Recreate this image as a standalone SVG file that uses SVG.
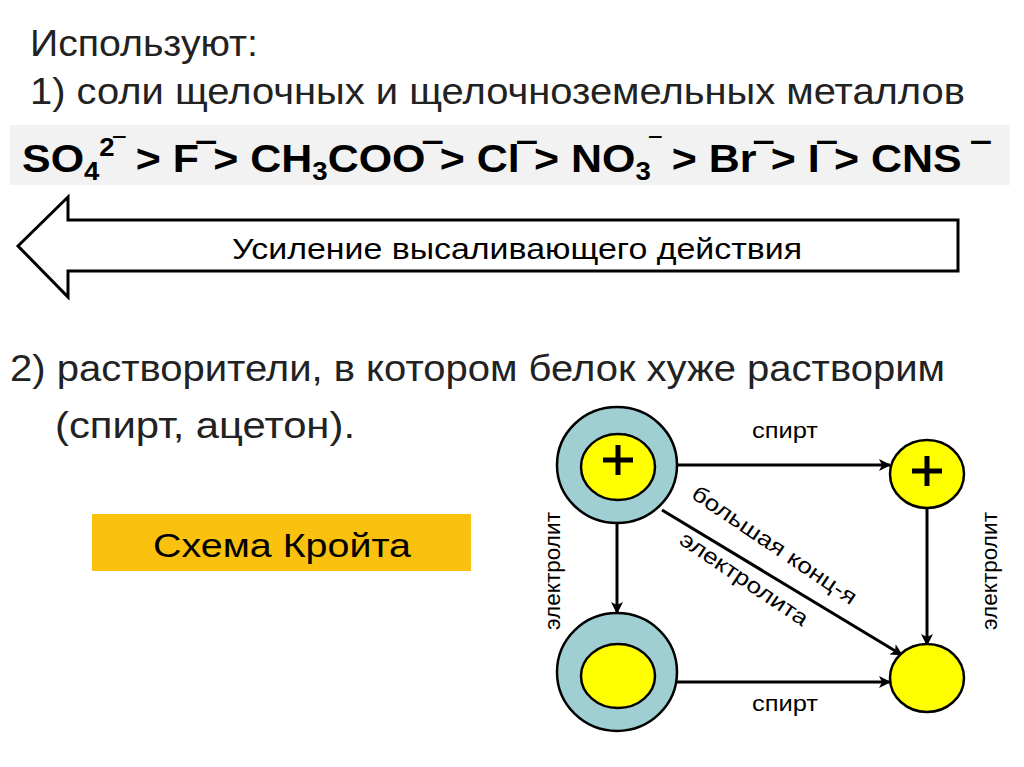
<svg xmlns="http://www.w3.org/2000/svg" width="1024" height="767" viewBox="0 0 1024 767">
<style>
text{font-family:"Liberation Sans",Arial,sans-serif;fill:#000}
.big{font-size:37px;fill:#222}
.f{font-size:39px;font-weight:bold}
.s{font-size:22px}
.ring{fill:#9fcfd2;stroke:#000;stroke-width:2.5}
.y{fill:#ffff00;stroke:#000;stroke-width:2.5}
.c line{stroke:#000;stroke-width:3;marker-end:url(#a)}
.p{stroke:#000;stroke-width:5}
</style>
<defs><marker id="a" markerWidth="12" markerHeight="12" refX="11" refY="6" orient="auto" markerUnits="userSpaceOnUse" viewBox="0 0 12 12"><path d="M0,0 L12,6 L0,12 L3,6Z" fill="#000"/></marker></defs>
<rect width="1024" height="767" fill="#fff"/>
<text class="big" x="30" y="56" textLength="228" lengthAdjust="spacingAndGlyphs">Используют:</text>
<text class="big" x="30" y="104" textLength="935" lengthAdjust="spacingAndGlyphs">1) соли щелочных и щелочноземельных металлов</text>
<rect x="10" y="125" width="1000" height="60" fill="#f2f2f2"/>
<text class="f" x="22" y="172" textLength="966" lengthAdjust="spacingAndGlyphs">SO<tspan font-size="25" dy="8">4</tspan><tspan font-size="25" dy="-24">2‾</tspan><tspan dy="16"> &gt; F‾&gt; CH</tspan><tspan font-size="25" dy="8">3</tspan><tspan dy="-8">COO‾&gt; Cl‾&gt; NO</tspan><tspan font-size="25" dy="8">3</tspan><tspan font-size="25" dy="-24">‾</tspan><tspan dy="16"> &gt; Br‾&gt; I‾&gt; CNS ‾</tspan></text>
<path d="M18,246 L68,197 L68,220 L958,220 L958,271 L68,271 L68,297 Z" fill="#fff" stroke="#000" stroke-width="3"/>
<text x="232" y="259" font-size="29" textLength="570" lengthAdjust="spacingAndGlyphs">Усиление высаливающего действия</text>
<text class="big" x="10" y="381" textLength="935" lengthAdjust="spacingAndGlyphs">2) растворители, в котором белок хуже растворим</text>
<text class="big" x="55" y="438" textLength="300" lengthAdjust="spacingAndGlyphs">(спирт, ацетон).</text>
<g id="kroyt"><rect x="92" y="514" width="379" height="57" fill="#fbc10f"/>
<text x="153" y="557" font-size="33" textLength="258" lengthAdjust="spacingAndGlyphs">Схема Кройта</text></g>
<g class="c" id="connectors">
<line x1="677" y1="465" x2="890" y2="465"/>
<line x1="677" y1="682" x2="890" y2="682"/>
<line x1="617" y1="523" x2="617" y2="613"/>
<line x1="927" y1="508" x2="927" y2="645"/>
<line x1="662" y1="510" x2="902" y2="655"/>
</g>
<g id="n1"><ellipse class="ring" cx="617" cy="465" rx="60" ry="58"/><ellipse class="y" cx="618" cy="467" rx="37" ry="33"/>
<line class="p" x1="618" y1="445" x2="618" y2="475"/><line class="p" x1="603" y1="460" x2="633" y2="460"/></g>
<g id="n2"><ellipse class="ring" cx="617" cy="672" rx="60" ry="59"/><ellipse class="y" cx="618" cy="676" rx="37" ry="32"/></g>
<g id="n3"><ellipse class="y" cx="927" cy="474" rx="37" ry="34"/>
<line class="p" x1="927" y1="456" x2="927" y2="486"/><line class="p" x1="912" y1="471" x2="942" y2="471"/></g>
<g id="n4"><ellipse class="y" cx="927" cy="678" rx="37" ry="34"/></g>
<text class="s" x="752" y="438" textLength="66" lengthAdjust="spacingAndGlyphs">спирт</text>
<text class="s" x="752" y="711" textLength="66" lengthAdjust="spacingAndGlyphs">спирт</text>
<text class="s" transform="translate(560,630) rotate(-90)" textLength="118" lengthAdjust="spacingAndGlyphs">электролит</text>
<text class="s" transform="translate(997,630) rotate(-90)" textLength="118" lengthAdjust="spacingAndGlyphs">электролит</text>
<text class="s" transform="translate(690,497) rotate(34)" textLength="194" lengthAdjust="spacingAndGlyphs">большая конц-я</text>
<text class="s" transform="translate(678,543) rotate(34)" textLength="150" lengthAdjust="spacingAndGlyphs">электролита</text>
</svg>
